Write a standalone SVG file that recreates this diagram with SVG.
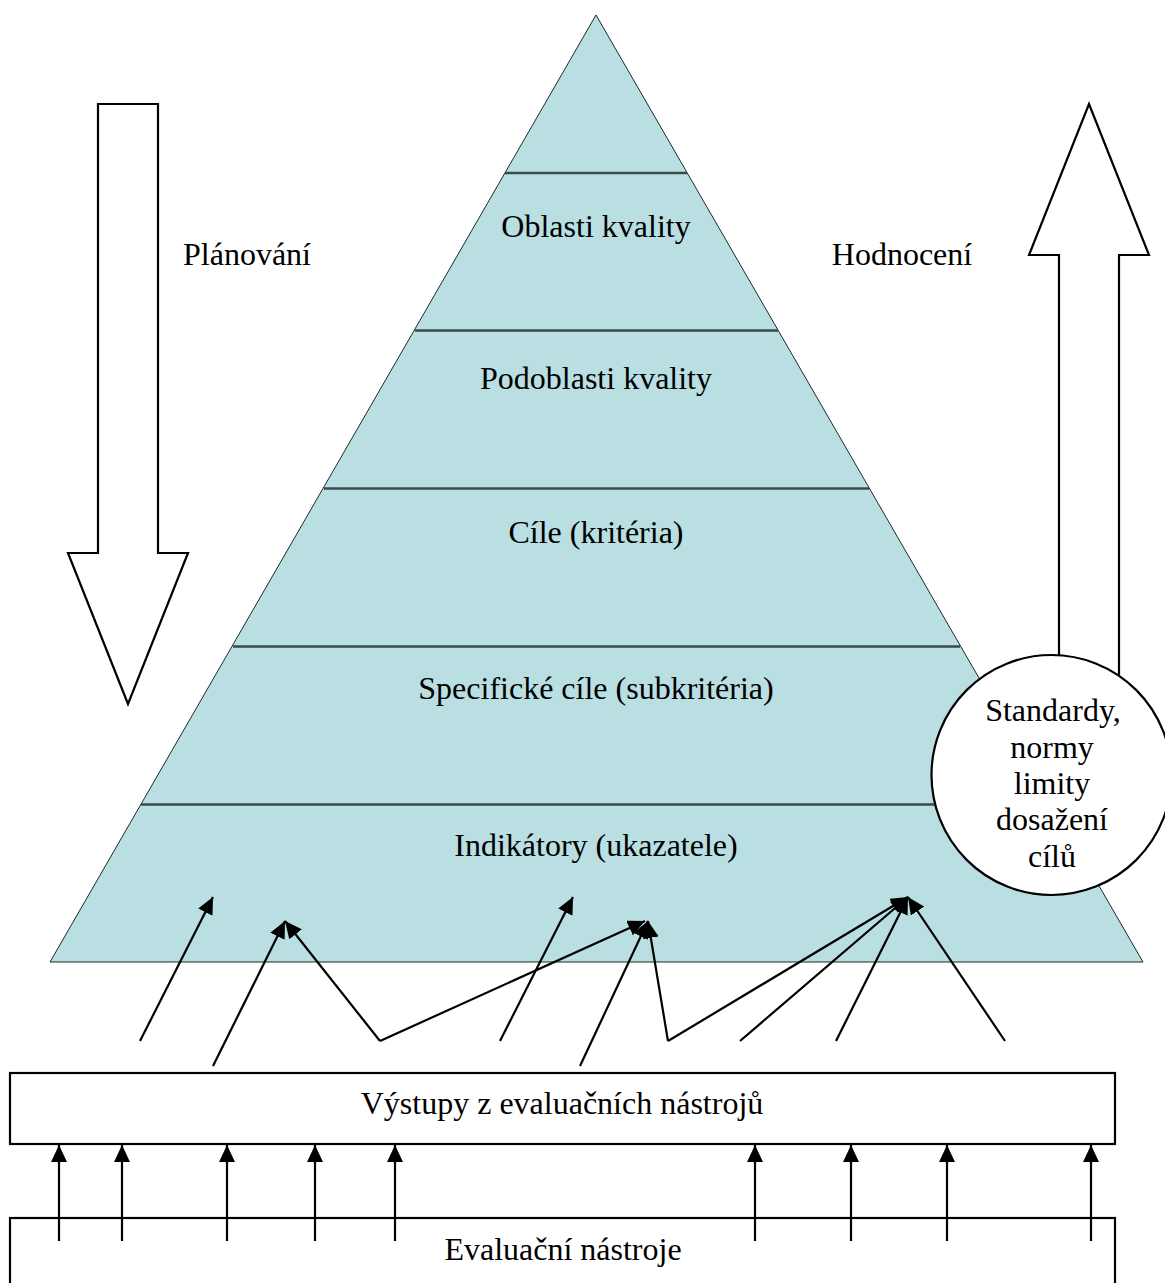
<svg xmlns="http://www.w3.org/2000/svg" width="1165" height="1283" viewBox="0 0 1165 1283">
<style>
text{font-family:"Liberation Serif","Times New Roman",serif;font-size:32px;fill:#000;text-anchor:middle}
.o{fill:#fff;stroke:#000;stroke-width:2.2}
.d{stroke:#3c4a4c;stroke-width:2.4;fill:none}
.a{stroke:#000;stroke-width:2.2;fill:none;marker-end:url(#h)}
</style>
<defs><marker id="h" markerUnits="userSpaceOnUse" markerWidth="17" markerHeight="16" refX="17" refY="8" orient="auto"><path d="M0 0L17 8L0 16Z" fill="#000"/></marker></defs>
<rect width="1165" height="1283" fill="#fff"/>
<g id="pyramid">
<path d="M596 15L1143 962H50Z" fill="#b9dfe2" stroke="#1a2a2c" stroke-width="1"/>
<path class="d" d="M505 173H687M415 330.500H778M324 488.500H869M233 646.500H960M141 804.500H1051"/>
<text x="596" y="237">Oblasti kvality</text>
<text x="596" y="389">Podoblasti kvality</text>
<text x="596" y="543">Cíle (kritéria)</text>
<text x="596" y="699">Specifické cíle (subkritéria)</text>
<text x="596" y="856">Indikátory (ukazatele)</text>
</g>
<g id="planovani">
<path class="o" d="M98 104H158V553H188L128 704L68 553H98Z"/>
<text x="247" y="265">Plánování</text>
</g>
<g id="hodnoceni">
<path class="o" d="M1089 104L1149 255H1119V700H1059V255H1029Z"/>
<text x="902" y="265">Hodnocení</text>
</g>
<g id="standardy">
<circle class="o" cx="1051.500" cy="775" r="120"/>
<text x="1053" y="721">Standardy,</text>
<text x="1052" y="758">normy</text>
<text x="1052" y="794">limity</text>
<text x="1052" y="830">dosažení</text>
<text x="1052" y="867">cílů</text>
</g>
<g id="vystupy">
<rect class="o" x="10" y="1073" width="1105" height="71"/>
<text x="562" y="1114">Výstupy z evaluačních nástrojů</text>
</g>
<g id="nastroje">
<rect class="o" x="10" y="1218" width="1105" height="80"/>
<text x="563" y="1260">Evaluační nástroje</text>
</g>
<g id="connectors">
<path class="a" d="M140 1041L213 897"/>
<path class="a" d="M213 1066L285 921"/>
<path class="a" d="M380 1041L285 921"/>
<path class="a" d="M380 1041L645 921"/>
<path class="a" d="M500 1041L573 897"/>
<path class="a" d="M580 1066L648 921"/>
<path class="a" d="M668 1041L648 921"/>
<path class="a" d="M668 1041L908 897"/>
<path class="a" d="M740 1041L908 897"/>
<path class="a" d="M836 1041L908 897"/>
<path class="a" d="M1005 1041L908 897"/>
<path class="a" d="M59 1241V1145"/>
<path class="a" d="M122 1241V1145"/>
<path class="a" d="M227 1241V1145"/>
<path class="a" d="M315 1241V1145"/>
<path class="a" d="M395 1241V1145"/>
<path class="a" d="M755 1241V1145"/>
<path class="a" d="M851 1241V1145"/>
<path class="a" d="M947 1241V1145"/>
<path class="a" d="M1091 1241V1145"/>
</g>
</svg>
